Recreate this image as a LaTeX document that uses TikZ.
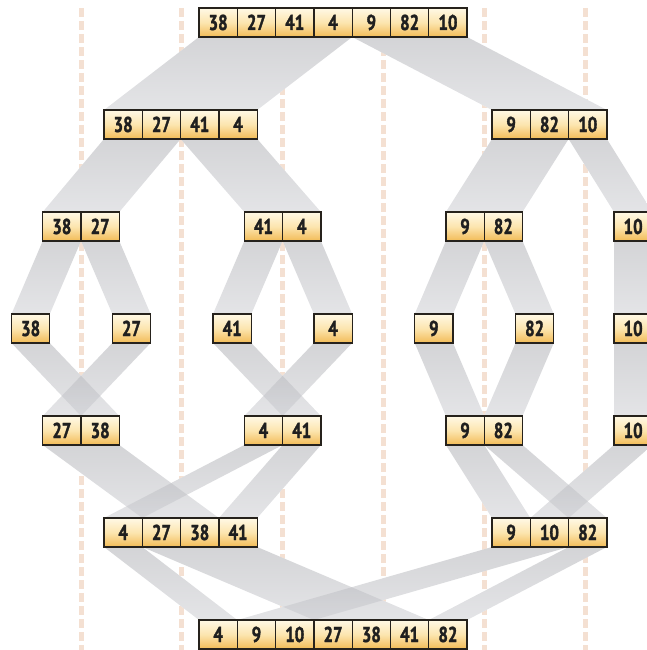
\documentclass[tikz,border=0pt]{standalone}
\usepackage{fontspec}
\setmainfont{PT Sans}
\newfontfamily\cellfont{PT Sans Bold}[FakeStretch=0.78, FakeBold=1.6]
\usepackage{xcolor}
\usepackage{tikz}
\usetikzlibrary{positioning, calc, backgrounds}
\pgfdeclarelayer{guides}
\pgfsetlayers{guides,background,main}

\definecolor{celltop}{RGB}{255,249,230}
\definecolor{cellmid}{RGB}{252,229,175}
\definecolor{cellbot}{RGB}{242,187,86}
\definecolor{celledge}{RGB}{38,34,28}
\definecolor{bandtop}{RGB}{170,171,176}
\definecolor{bandbot}{RGB}{202,203,208}
\definecolor{guidecol}{RGB}{244,224,210}

\newcommand{\cw}{38.3}
\newcommand{\cellrow}[3]{%
  \foreach \v [count=\i from 0] in {#3} {
    \node [cell] (r#1v\v) at ({#2+\i*\cw+\cw/2}, {22.5+102*#1}) {\v};
  }%
}

\begin{document}
\begin{tikzpicture}[x=1pt, y=-1pt]
        \tikzstyle{cell} = [rectangle, draw=celledge, line width=1.3pt, minimum width=38.3pt, minimum height=29pt, inner sep=0pt, outer sep=0pt, top color=celltop, bottom color=cellbot, middle color=cellmid, text=black!88, font=\cellfont\fontsize{21.5}{21.5}\selectfont, text height=15pt, text depth=0pt]
        \tikzstyle{band} = [top color=bandtop, bottom color=bandbot, fill opacity=0.5, draw=none]
        \tikzstyle{guide} = [guidecol, line width=5pt, dash pattern=on 9pt off 4pt]

        \useasboundingbox (0,0) rectangle (646,650);

        \cellrow{0}{199}{38,27,41,4,9,82,10}
        \cellrow{1}{104}{38,27,41,4}
        \cellrow{1}{492}{9,82,10}
        \cellrow{2}{42.7}{38,27}
        \cellrow{2}{244.3}{41,4}
        \cellrow{2}{445.9}{9,82}
        \cellrow{2}{614}{10}
        \cellrow{3}{11.5}{38}
        \cellrow{3}{112.3}{27}
        \cellrow{3}{213}{41}
        \cellrow{3}{313.9}{4}
        \cellrow{3}{414.7}{9}
        \cellrow{3}{515.5}{82}
        \cellrow{3}{614}{10}
        \cellrow{4}{42.7}{27,38}
        \cellrow{4}{244.3}{4,41}
        \cellrow{4}{445.9}{9,82}
        \cellrow{4}{614}{10}
        \cellrow{5}{104}{4,27,38,41}
        \cellrow{5}{492}{9,10,82}
        \cellrow{6}{199}{4,9,10,27,38,41,82}

        \def\bandlist{r0v38/r0v4/r1v38/r1v4, r0v9/r0v10/r1v9/r1v10,
          r1v38/r1v27/r2v38/r2v27, r1v41/r1v4/r2v41/r2v4, r1v9/r1v82/r2v9/r2v82, r1v10/r1v10/r2v10/r2v10,
          r2v38/r2v38/r3v38/r3v38, r2v27/r2v27/r3v27/r3v27, r2v41/r2v41/r3v41/r3v41, r2v4/r2v4/r3v4/r3v4,
          r2v9/r2v9/r3v9/r3v9, r2v82/r2v82/r3v82/r3v82, r2v10/r2v10/r3v10/r3v10,
          r3v38/r3v38/r4v38/r4v38, r3v27/r3v27/r4v27/r4v27, r3v41/r3v41/r4v41/r4v41, r3v4/r3v4/r4v4/r4v4,
          r3v9/r3v9/r4v9/r4v9, r3v82/r3v82/r4v82/r4v82, r3v10/r3v10/r4v10/r4v10,
          r4v27/r4v38/r5v27/r5v38, r4v4/r4v4/r5v4/r5v4, r4v41/r4v41/r5v41/r5v41,
          r4v9/r4v9/r5v9/r5v9, r4v82/r4v82/r5v82/r5v82, r4v10/r4v10/r5v10/r5v10,
          r5v4/r5v4/r6v4/r6v4, r5v27/r5v41/r6v27/r6v41, r5v9/r5v10/r6v9/r6v10, r5v82/r5v82/r6v82/r6v82}

        \begin{pgfonlayer}{background}
            \foreach \a/\b/\c/\d in \bandlist
                \fill [white] (\a.south west) -- (\b.south east) -- (\d.north east) -- (\c.north west) -- cycle;
            \foreach \a/\b/\c/\d in \bandlist
                \shade [band] (\a.south west) -- (\b.south east) -- (\d.north east) -- (\c.north west) -- cycle;
        \end{pgfonlayer}

        \begin{pgfonlayer}{guides}
            \foreach \k in {0,...,5}
                \draw [guide] ({81+100.8*\k}, 8) -- ({81+100.8*\k}, 652);
        \end{pgfonlayer}
    \end{tikzpicture}
\end{document}
